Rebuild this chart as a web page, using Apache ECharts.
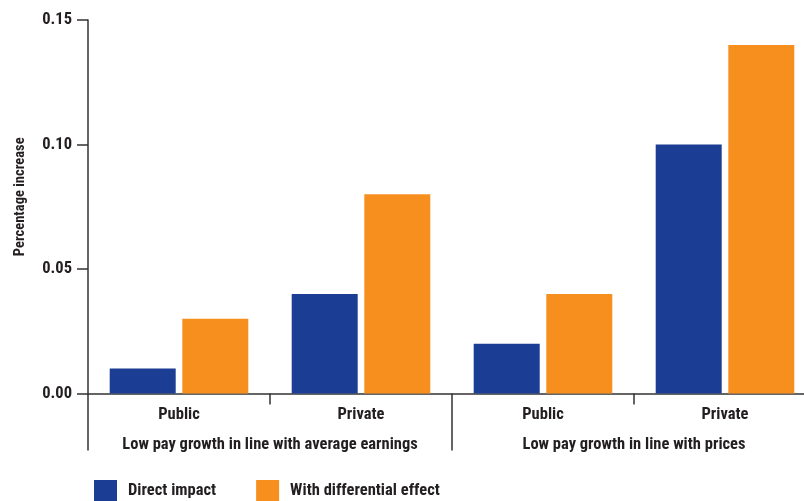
<!DOCTYPE html>
<html>
<head>
<meta charset="utf-8">
<script src="https://cdn.jsdelivr.net/npm/echarts@6/dist/echarts.min.js"></script>
<style>
html,body{margin:0;padding:0;background:#fff;}
#chart{width:804px;height:501px;}
</style>
</head>
<body>
<div id="chart"></div>
<script>
var categories = ['Public', 'Private', 'Public', 'Private'];
var groups = ['Low pay growth in line with average earnings', 'Low pay growth in line with prices'];
var directImpact = [0.01, 0.04, 0.02, 0.10];
var differentialEffect = [0.03, 0.08, 0.04, 0.14];
var seriesNames = ['Direct impact', 'With differential effect'];
var yTicks = [0, 0.05, 0.10, 0.15];

var FONT = '"Liberation Sans Narrow", "Roboto Condensed", "Arial Narrow", "Liberation Sans", sans-serif';
var TXT = '#231f20';
var LINE = '#333333';

var chart = echarts.init(document.getElementById('chart'));
chart.setOption({
  animation: false,
  textStyle: { fontFamily: FONT, color: TXT },
  grid: { left: 88, top: 20, width: 728, height: 373.5, containLabel: false, outerBoundsMode: 'none' },
  legend: {
    left: 94, top: 480, padding: 0,
    itemWidth: 23, itemHeight: 21, itemGap: 40,
    icon: 'rect',
    textStyle: { fontFamily: FONT, fontWeight: 'bold', fontSize: 16.5, color: TXT, padding: [0, 0, 0, 6] },
    data: seriesNames
  },
  xAxis: [
    {
      type: 'category',
      data: categories,
      position: 'bottom',
      axisLine: { show: true, lineStyle: { color: LINE, width: 1.5 } },
      axisTick: { show: true, interval: 0, length: 11, lineStyle: { color: LINE, width: 1.5 } },
      axisLabel: { interval: 0, hideOverlap: false, fontFamily: FONT, fontWeight: 'bold', fontSize: 16.5, color: TXT, margin: 13 }
    },
    {
      type: 'category',
      data: groups,
      position: 'bottom',
      axisLine: { show: false },
      axisTick: { show: true, interval: 0, length: 57, lineStyle: { color: LINE, width: 1.5 } },
      axisLabel: { interval: 0, hideOverlap: false, fontFamily: FONT, fontWeight: 'bold', fontSize: 16.5, color: TXT, margin: 43 }
    }
  ],
  yAxis: {
    type: 'value',
    min: yTicks[0], max: yTicks[yTicks.length - 1], interval: 0.05,
    name: 'Percentage increase',
    nameLocation: 'middle',
    nameGap: 60,
    nameTextStyle: { fontFamily: FONT, fontWeight: 'bold', fontSize: 14.5, color: TXT, padding: [0, 0, 0, 20] },
    axisLine: { show: true, lineStyle: { color: LINE, width: 1.5 } },
    axisTick: { show: true, inside: false, length: 11, lineStyle: { color: LINE, width: 1.5 } },
    splitLine: { show: false },
    axisLabel: {
      fontFamily: FONT, fontWeight: 'bold', fontSize: 16.5, color: TXT, margin: 16,
      formatter: function (v) { return v.toFixed(2); }
    }
  },
  series: [
    { name: seriesNames[0], type: 'bar', data: directImpact, xAxisIndex: 0, barWidth: 66, barGap: '10%', itemStyle: { color: '#1b3d93' } },
    { name: seriesNames[1], type: 'bar', data: differentialEffect, xAxisIndex: 0, barWidth: 66, barGap: '10%', itemStyle: { color: '#f78f1f' } }
  ]
});
</script>
</body>
</html>
